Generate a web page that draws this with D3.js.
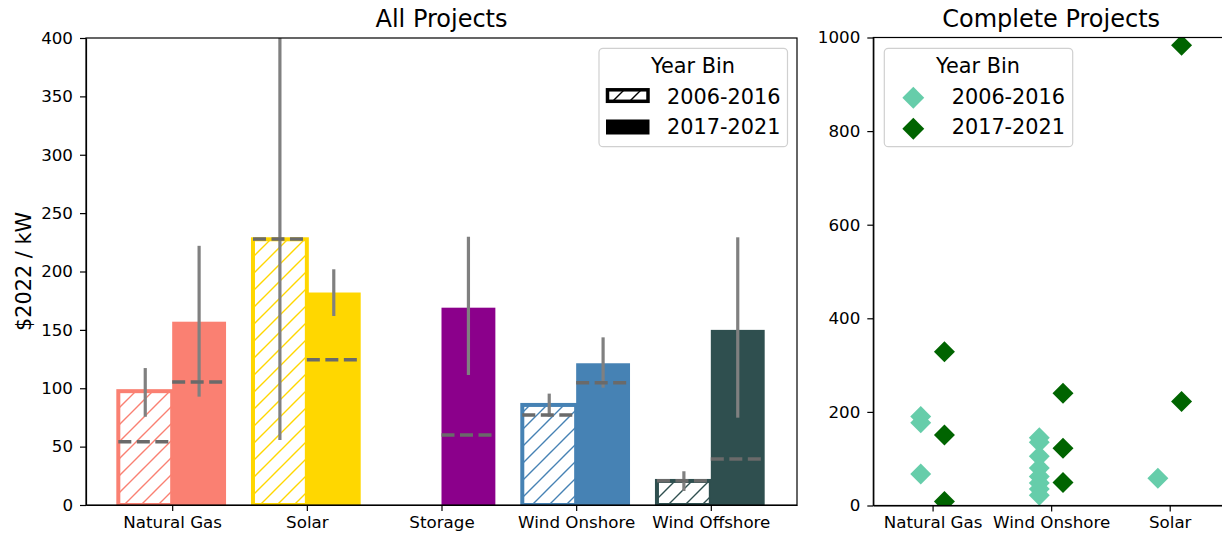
<!DOCTYPE html>
<html>
<head>
<meta charset="utf-8">
<script src="https://cdn.jsdelivr.net/npm/d3@7"></script>
<style>
  html, body { margin: 0; padding: 0; background: #fff; }
  svg { display: block; font-family: "DejaVu Sans", sans-serif; }
  .axis path, .axis line { stroke: #000; stroke-width: 1.2; }
  .axis text { fill: #000; font-size: 16.7px; font-family: "DejaVu Sans", sans-serif; }
</style>
</head>
<body>
<svg id="chart" width="1222" height="537"></svg>
<script>
// ---- All Projects: mean cost by technology and year bin ----
const categories = ["Natural Gas", "Solar", "Storage", "Wind Onshore", "Wind Offshore"];
const categoryColors = ["#FA8072", "#FFD700", "#8B008B", "#4682B4", "#2F4F4F"];
const yearBins = ["2006-2016", "2017-2021"];

const mean2006 = [97.5, 227.6, null, 85.7, 20.6];
const mean2017 = [157, 182, 169, 121.4, 150];
const ciLow2006 = [75.6, 55.7, null, 75.7, 12];
const ciHigh2006 = [117.3, 450, null, 95.4, 28.9];
const ciLow2017 = [92.8, 161.9, 111.3, 100.5, 74.8];
const ciHigh2017 = [222, 201.9, 229.8, 143.6, 229.3];
const median2006 = [54.2, 227.8, null, 77, 20.8];
const median2017 = [105.4, 124.5, 60, 104.8, 39.4];

const leftTicks = [0, 50, 100, 150, 200, 250, 300, 350, 400];

// ---- Complete Projects: individual project costs ----
const completeCategories = ["Natural Gas", "Wind Onshore", "Solar"];
const complete2006 = [
  ["Natural Gas", 190], ["Natural Gas", 177], ["Natural Gas", 67.5],
  ["Wind Onshore", 145], ["Wind Onshore", 135], ["Wind Onshore", 105],
  ["Wind Onshore", 80], ["Wind Onshore", 62], ["Wind Onshore", 48],
  ["Wind Onshore", 35], ["Wind Onshore", 22],
  ["Solar", 58]
];
const complete2017 = [
  ["Natural Gas", 328.6], ["Natural Gas", 150.8], ["Natural Gas", 8.4],
  ["Wind Onshore", 239.8], ["Wind Onshore", 122.3], ["Wind Onshore", 49],
  ["Solar", 983.5], ["Solar", 222]
];
const rightTicks = [0, 200, 400, 600, 800, 1000];
const pointColors = ["#66CDAA", "#006400"];

const svg = d3.select("#chart");
svg.append("rect").attr("width", 1222).attr("height", 537).attr("fill", "#fff");
const defs = svg.append("defs");

// diagonal hatch pattern per colour
function hatchPattern(id, color) {
  const p = defs.append("pattern")
    .attr("id", id)
    .attr("patternUnits", "userSpaceOnUse")
    .attr("width", 17).attr("height", 17);
  p.append("rect").attr("width", 17).attr("height", 17).attr("fill", "#fff");
  p.append("path")
    .attr("d", "M-2,2 L2,-2 M0,17 L17,0 M15,19 L19,15")
    .attr("stroke", color).attr("stroke-width", 1.4).attr("fill", "none");
  return `url(#${id})`;
}

// ================= Left panel =================
const L = { left: 86, right: 797, top: 38, bottom: 505 };
const xL = d3.scaleLinear().domain([-0.64, 4.64]).range([L.left, L.right]);
const yL = d3.scaleLinear().domain([0, 400]).range([L.bottom, L.top]);
const barW = 0.4;

defs.append("clipPath").attr("id", "clipL")
  .append("rect").attr("x", L.left).attr("y", L.top)
  .attr("width", L.right - L.left).attr("height", L.bottom - L.top);

const gL = svg.append("g").attr("clip-path", "url(#clipL)");

categories.forEach((cat, i) => {
  const color = categoryColors[i];
  // earlier bin: hatched outline bar
  if (mean2006[i] != null) {
    const fill = hatchPattern("hatch" + i, color);
    gL.append("rect")
      .attr("x", xL(i - barW)).attr("y", yL(mean2006[i]))
      .attr("width", xL(i) - xL(i - barW)).attr("height", yL(0) - yL(mean2006[i]))
      .attr("fill", fill).attr("stroke", color).attr("stroke-width", 4);
  }
  // later bin: solid bar
  if (mean2017[i] != null) {
    gL.append("rect")
      .attr("x", xL(i)).attr("y", yL(mean2017[i]))
      .attr("width", xL(i + barW) - xL(i)).attr("height", yL(0) - yL(mean2017[i]))
      .attr("fill", color);
  }
});

// confidence intervals and medians
const binsData = [
  { offset: -barW / 2, lo: ciLow2006, hi: ciHigh2006, med: median2006 },
  { offset: barW / 2, lo: ciLow2017, hi: ciHigh2017, med: median2017 }
];
binsData.forEach(b => {
  categories.forEach((cat, i) => {
    if (b.lo[i] == null) return;
    const cx = xL(i + b.offset);
    gL.append("line")
      .attr("x1", cx).attr("x2", cx)
      .attr("y1", yL(b.lo[i])).attr("y2", yL(b.hi[i]))
      .attr("stroke", "#808080").attr("stroke-width", 3.2);
  });
});
binsData.forEach(b => {
  categories.forEach((cat, i) => {
    if (b.med[i] == null) return;
    const x0 = xL(i + b.offset - barW / 2), x1 = xL(i + b.offset + barW / 2);
    gL.append("line")
      .attr("x1", x0).attr("x2", x1)
      .attr("y1", yL(b.med[i])).attr("y2", yL(b.med[i]))
      .attr("stroke", "#6a6a6a").attr("stroke-width", 3.5)
      .attr("stroke-dasharray", "13,5.5");
  });
});

// axes
svg.append("g").attr("class", "axis")
  .attr("transform", `translate(${L.left},0)`)
  .call(d3.axisLeft(yL).tickValues(leftTicks).tickFormat(d3.format("d"))
    .tickSize(6).tickSizeOuter(0).tickPadding(7));
svg.append("g").attr("class", "axis")
  .attr("transform", `translate(0,${L.bottom})`)
  .call(d3.axisBottom(xL).tickValues(d3.range(categories.length))
    .tickFormat(i => categories[i]).tickSize(6).tickSizeOuter(0).tickPadding(5));
svg.append("rect")
  .attr("x", L.left).attr("y", L.top)
  .attr("width", L.right - L.left).attr("height", L.bottom - L.top)
  .attr("fill", "none").attr("stroke", "#000").attr("stroke-width", 1.2);

svg.append("text")
  .attr("x", (L.left + L.right) / 2).attr("y", 27)
  .attr("text-anchor", "middle").attr("font-size", 24).text("All Projects");

svg.append("text")
  .attr("transform", `translate(31,${(L.top + L.bottom) / 2}) rotate(-90)`)
  .attr("text-anchor", "middle").attr("font-size", 20.8).text("$2022 / kW");

// left legend
const legL = svg.append("g");
legL.append("rect")
  .attr("x", 599).attr("y", 48.3).attr("width", 188.5).attr("height", 98.4)
  .attr("rx", 4).attr("fill", "#fff").attr("fill-opacity", 0.8)
  .attr("stroke", "#d0d0d0").attr("stroke-width", 1.2);
legL.append("text").attr("x", 693).attr("y", 73.3)
  .attr("text-anchor", "middle").attr("font-size", 20.8).text("Year Bin");
legL.append("rect")
  .attr("x", 607.5).attr("y", 89.8).attr("width", 40.5).attr("height", 11.5)
  .attr("fill", hatchPattern("hatchLegend", "#000"))
  .attr("stroke", "#000").attr("stroke-width", 3.5);
legL.append("rect")
  .attr("x", 606).attr("y", 119.5).attr("width", 43.5).attr("height", 15)
  .attr("fill", "#000");
yearBins.forEach((b, k) => {
  legL.append("text").attr("x", 667).attr("y", 104 + k * 29.5)
    .attr("font-size", 20.8).text(b);
});

// ================= Right panel =================
const R = { left: 873.3, right: 1229, top: 37.5, bottom: 505.5 };
const xR = d3.scaleLinear().domain([-0.5, 2.5]).range([R.left, R.right]);
const yR = d3.scaleLinear().domain([0, 1000]).range([R.bottom, R.top]);
const dodge = 0.1;

defs.append("clipPath").attr("id", "clipR")
  .append("rect").attr("x", R.left).attr("y", R.top)
  .attr("width", R.right - R.left).attr("height", R.bottom - R.top);

const gR = svg.append("g").attr("clip-path", "url(#clipR)");
const diamond = d3.symbol(d3.symbolSquare, 220);

[complete2006, complete2017].forEach((pts, k) => {
  const off = k === 0 ? -dodge : dodge;
  gR.selectAll(null).data(pts).enter().append("path")
    .attr("d", diamond)
    .attr("transform", d => `translate(${xR(completeCategories.indexOf(d[0]) + off)},${yR(d[1])}) rotate(45)`)
    .attr("fill", pointColors[k]);
});

svg.append("g").attr("class", "axis")
  .attr("transform", `translate(${R.left},0)`)
  .call(d3.axisLeft(yR).tickValues(rightTicks).tickFormat(d3.format("d"))
    .tickSize(6).tickSizeOuter(0).tickPadding(7));
svg.append("g").attr("class", "axis")
  .attr("transform", `translate(0,${R.bottom})`)
  .call(d3.axisBottom(xR).tickValues(d3.range(completeCategories.length))
    .tickFormat(i => completeCategories[i]).tickSize(6).tickSizeOuter(0).tickPadding(5));
svg.append("rect")
  .attr("x", R.left).attr("y", R.top)
  .attr("width", R.right - R.left).attr("height", R.bottom - R.top)
  .attr("fill", "none").attr("stroke", "#000").attr("stroke-width", 1.2);

svg.append("text")
  .attr("x", (R.left + R.right) / 2).attr("y", 27)
  .attr("text-anchor", "middle").attr("font-size", 24).text("Complete Projects");

// right legend
const legR = svg.append("g");
legR.append("rect")
  .attr("x", 884.3).attr("y", 48.3).attr("width", 188.4).attr("height", 98.4)
  .attr("rx", 4).attr("fill", "#fff").attr("fill-opacity", 0.8)
  .attr("stroke", "#d0d0d0").attr("stroke-width", 1.2);
legR.append("text").attr("x", 978).attr("y", 72.7)
  .attr("text-anchor", "middle").attr("font-size", 20.8).text("Year Bin");
yearBins.forEach((b, k) => {
  legR.append("path")
    .attr("d", d3.symbol(d3.symbolSquare, 240))
    .attr("transform", `translate(913.3,${97.7 + k * 31}) rotate(45)`)
    .attr("fill", pointColors[k]);
  legR.append("text").attr("x", 951.7).attr("y", 104 + k * 30)
    .attr("font-size", 20.8).text(b);
});
</script>
</body>
</html>
